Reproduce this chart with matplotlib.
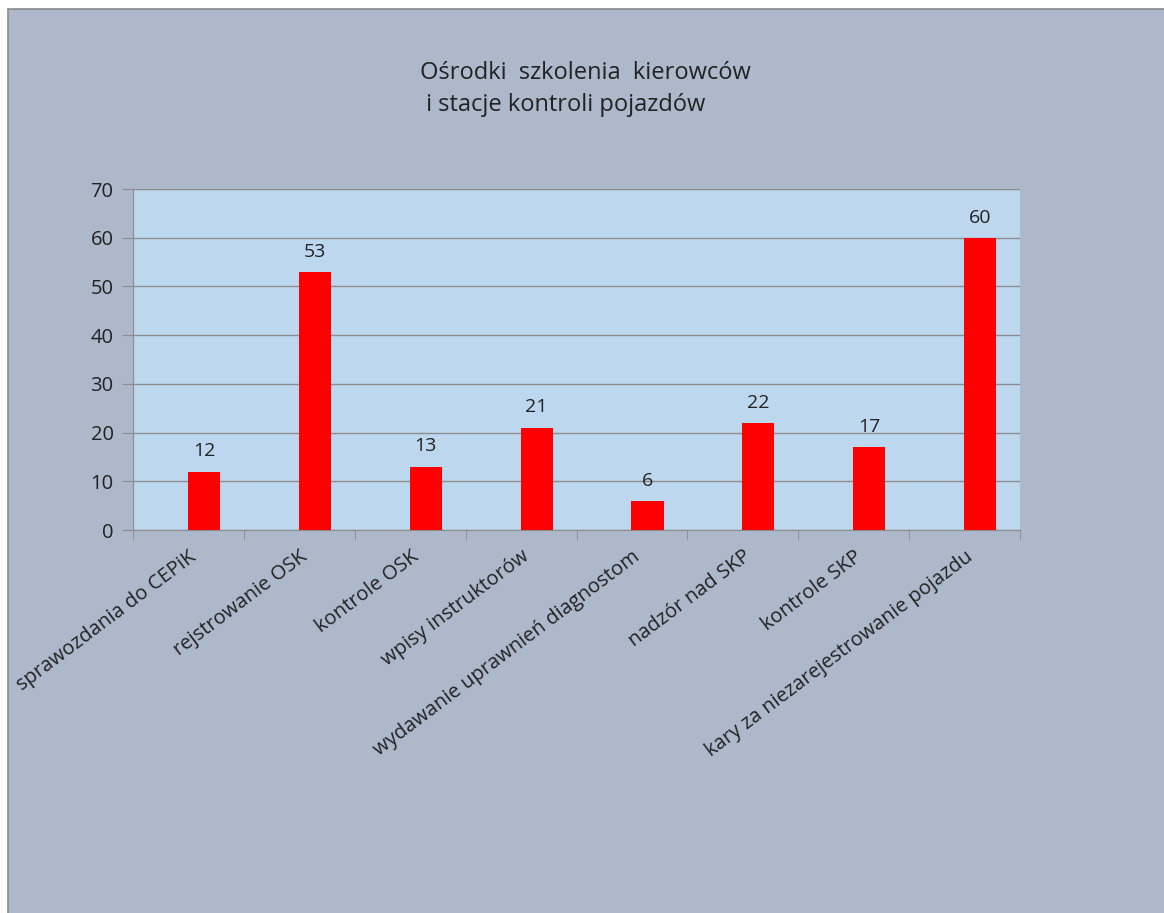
import numpy as np
import matplotlib.pyplot as plt
from matplotlib.patches import Rectangle

categories = [
    "sprawozdania do CEPiK",
    "rejstrowanie OSK",
    "kontrole OSK",
    "wpisy instruktorów",
    "wydawanie uprawnień diagnostom",
    "nadzór nad SKP",
    "kontrole SKP",
    "kary za niezarejestrowanie pojazdu",
]
values = [12, 53, 13, 21, 6, 22, 17, 60]
title = "Ośrodki  szkolenia  kierowców\n i stacje kontroli pojazdów"

plt.rcParams['font.family'] = ['Open Sans', 'DejaVu Sans']
text_color = "#222222"

W, H = 1164, 913
fig = plt.figure(figsize=(W / 100, H / 100), dpi=100)
fig.patch.set_facecolor("white")

# chart area background, thin border only on left/top
bg = Rectangle((8 / W, -0.01), 1.0, 1.01 - 9 / H, transform=fig.transFigure,
               facecolor="#ADB8CA", edgecolor="#8a8a8a", linewidth=1.2, zorder=-1)
fig.patches.append(bg)

ax = fig.add_axes([133 / W, 1 - 530 / H, (1020 - 133) / W, (530 - 189) / H])
ax.set_zorder(2)
ax.set_facecolor("#BDD7EE")

x = np.arange(len(categories))
ax.bar(x + 0.14, values, width=0.29, color="#FF0000", zorder=3)
for xi, v in zip(x, values):
    ax.text(xi + 0.14, v + 2.3, str(v), ha="center", va="bottom",
            fontsize=14, color=text_color)

ax.set_xlim(-0.5, len(categories) - 0.5)
ax.set_ylim(0, 70)
ax.set_yticks(range(0, 71, 10))
ax.yaxis.grid(True, color="#8c8c8c", linewidth=1.0, zorder=1)
ax.tick_params(axis="y", length=8, color="#8c8c8c", labelsize=14.5,
               labelcolor=text_color, pad=6)

ax.set_xticks(x)
ax.set_xticklabels(categories, rotation=37, ha="right", va="top",
                   rotation_mode="anchor", fontsize=14.5, color=text_color)
ax.tick_params(axis="x", which="major", length=0, pad=12)
ax.set_xticks(np.arange(-0.5, len(categories)), minor=True)
ax.tick_params(axis="x", which="minor", length=7, color="#8c8c8c")

for side in ["top", "right"]:
    ax.spines[side].set_visible(False)
ax.spines["left"].set_color("#8c8c8c")
ax.spines["bottom"].set_color("#8c8c8c")

fig.text(420 / W, 1 - 89 / H, title, ha="left", va="center",
         multialignment="left", fontsize=17, color=text_color, linespacing=1.4)

fig.savefig("out.png", dpi=100)
